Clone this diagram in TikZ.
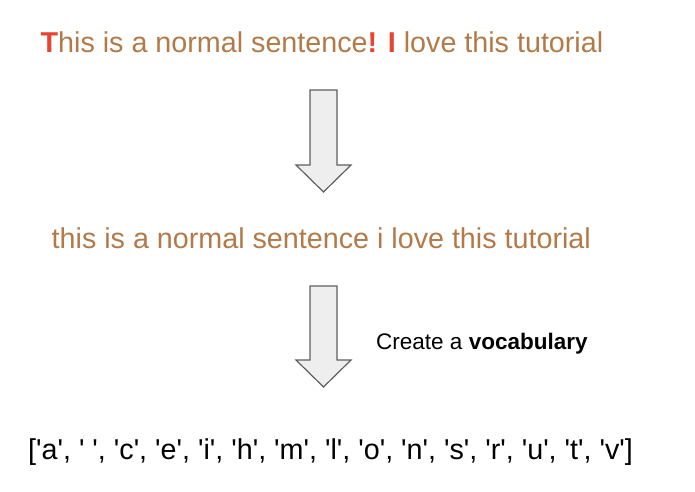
\documentclass[tikz,border=0pt]{standalone}
\usepackage{fontspec}
\setmainfont{Liberation Sans}
\definecolor{txtbrown}{RGB}{178,122,72}
\definecolor{txtred}{RGB}{231,68,50}
\definecolor{arrowfill}{RGB}{238,238,238}
\definecolor{arrowline}{RGB}{95,95,95}
\newcommand{\sq}[1]{\textquotesingle#1\textquotesingle}
\begin{document}
\begin{tikzpicture}[x=1pt,y=1pt,
  bigtext/.style={anchor=base west,inner sep=0pt,font=\fontsize{28.7}{34}\selectfont},
  smalltext/.style={anchor=base west,inner sep=0pt,font=\fontsize{22.5}{27}\selectfont},
  blockarrow/.style={draw=arrowline,fill=arrowfill,line width=1.2pt,line join=miter}]
\useasboundingbox (0,0) rectangle (695,491);
% texts
\node[bigtext,text=txtbrown] (s1) at (40.5,438) {\textcolor{txtred}{\textbf{T}}his is a normal sentence\textcolor{txtred}{\textbf{!}} \textcolor{txtred}{\textbf{I}} love this tutorial};
\node[bigtext,text=txtbrown] (s2) at (51.5,243) {this is a normal sentence i love this tutorial};
\node[bigtext,text=black] (voc) at (28,32) {[\sq{a}, \sq{ }, \sq{c}, \sq{e}, \sq{i}, \sq{h}, \sq{m}, \sq{l}, \sq{o}, \sq{n}, \sq{s}, \sq{r}, \sq{u}, \sq{t}, \sq{v}]};
\node[smalltext,text=black] (lab) at (376,142) {Create a \textbf{vocabulary}};
% arrows
\draw[blockarrow] (310,401) -- (337,401) -- (337,326) -- (351,326) -- (323.5,299) -- (296,326) -- (310,326) -- cycle;
\draw[blockarrow] (310,205) -- (337,205) -- (337,131) -- (351,131) -- (323.5,104) -- (296,131) -- (310,131) -- cycle;
\end{tikzpicture}
\end{document}
